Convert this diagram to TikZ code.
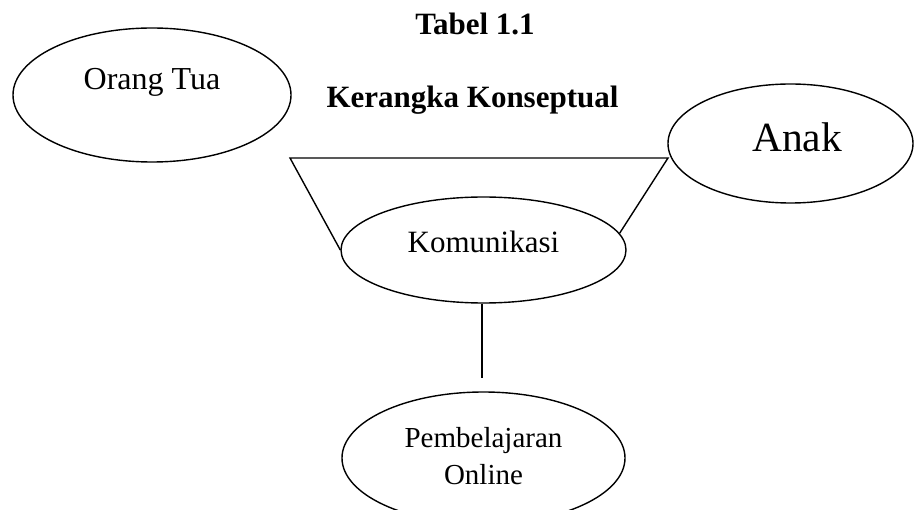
\documentclass[tikz,border=0pt]{standalone}
\usepackage{fontspec}
\setmainfont{Liberation Serif}
\usetikzlibrary{shapes.geometric}
\begin{document}
\begin{tikzpicture}[x=1pt,y=-1pt,
  oval/.style={draw,ellipse,line width=1.4pt,inner sep=0pt},
  conn/.style={line width=1.4pt},
  txt/.style={inner sep=0pt,anchor=base,font=\fontsize{31}{37}\selectfont},
  ttl/.style={inner sep=0pt,anchor=base,font=\fontsize{31}{37}\selectfont\bfseries}]
\useasboundingbox (0,0) rectangle (915,510);
% titles
\node[ttl] (t1) at (475,35) {Tabel 1.1};
\node[ttl] (t2) at (472.5,108) {Kerangka Konseptual};
% ellipses
\node[oval,minimum width=278pt,minimum height=134pt] (ortu) at (152,95) {};
\node[txt,font=\fontsize{32}{38}\selectfont] (ortuT) at (152,90) {Orang Tua};
\node[oval,minimum width=245pt,minimum height=119pt] (anak) at (790.5,143.5) {};
\node[txt,font=\fontsize{41.5}{48}\selectfont] (anakT) at (797,152) {Anak};
\node[oval,minimum width=285pt,minimum height=106pt] (kom) at (483.5,250) {};
\node[txt] (komT) at (483.5,253) {Komunikasi};
\node[oval,minimum width=283pt,minimum height=132pt] (pemb) at (483.5,458) {};
\node[txt,font=\fontsize{29}{37}\selectfont] (pembT1) at (483.5,447) {Pembelajaran};
\node[txt,font=\fontsize{29}{37}\selectfont] (pembT2) at (483.5,484) {Online};
% funnel
\coordinate (tl) at (290,158);
\coordinate (tr) at (668,158);
\coordinate (vend) at (482,378);
\draw[conn] (kom.west) -- (tl) -- (tr) -- (kom.7);
\draw[conn] (kom.south -| vend) -- (vend);
\end{tikzpicture}
\end{document}
